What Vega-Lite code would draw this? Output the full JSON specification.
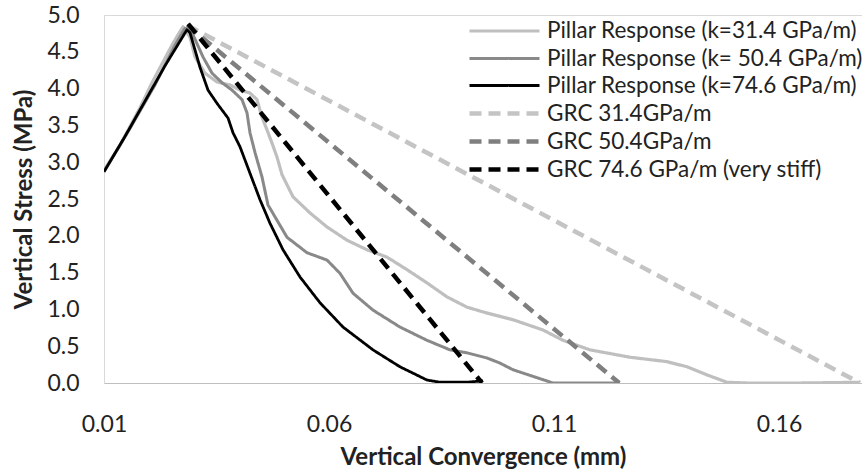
{
  "$schema": "https://vega.github.io/schema/vega-lite/v6.json",
  "width": 758,
  "height": 368,
  "autosize": {"type": "none"},
  "padding": {"left": 104, "top": 15, "right": 0, "bottom": 93},
  "background": "white",
  "config": {
    "font": "Lato",
    "view": {"stroke": "#d9d9d9", "strokeWidth": 1},
    "axis": {
      "grid": false,
      "ticks": false,
      "tickSize": 0,
      "labelFlush": false,
      "labelFont": "Lato",
      "labelFontSize": 23,
      "labelColor": "#222222",
      "titleFont": "Lato",
      "titleFontSize": 24,
      "titleFontWeight": "bold",
      "titleColor": "#222222"
    },
    "legend": {
      "labelFont": "Lato",
      "labelFontSize": 22.5,
      "labelColor": "#222222",
      "labelLimit": 400
    }
  },
  "data": {
    "values": [
      {"series": "Pillar Response (k=31.4 GPa/m)", "conv": 0.0100, "stress": 2.89},
      {"series": "Pillar Response (k=31.4 GPa/m)", "conv": 0.01356, "stress": 3.23},
      {"series": "Pillar Response (k=31.4 GPa/m)", "conv": 0.0180, "stress": 3.74},
      {"series": "Pillar Response (k=31.4 GPa/m)", "conv": 0.02067, "stress": 4.08},
      {"series": "Pillar Response (k=31.4 GPa/m)", "conv": 0.02311, "stress": 4.36},
      {"series": "Pillar Response (k=31.4 GPa/m)", "conv": 0.02511, "stress": 4.59},
      {"series": "Pillar Response (k=31.4 GPa/m)", "conv": 0.02644, "stress": 4.73},
      {"series": "Pillar Response (k=31.4 GPa/m)", "conv": 0.02756, "stress": 4.84},
      {"series": "Pillar Response (k=31.4 GPa/m)", "conv": 0.02911, "stress": 4.70},
      {"series": "Pillar Response (k=31.4 GPa/m)", "conv": 0.03022, "stress": 4.43},
      {"series": "Pillar Response (k=31.4 GPa/m)", "conv": 0.03244, "stress": 4.21},
      {"series": "Pillar Response (k=31.4 GPa/m)", "conv": 0.03511, "stress": 4.09},
      {"series": "Pillar Response (k=31.4 GPa/m)", "conv": 0.03800, "stress": 4.05},
      {"series": "Pillar Response (k=31.4 GPa/m)", "conv": 0.04022, "stress": 3.98},
      {"series": "Pillar Response (k=31.4 GPa/m)", "conv": 0.04244, "stress": 3.94},
      {"series": "Pillar Response (k=31.4 GPa/m)", "conv": 0.04400, "stress": 3.85},
      {"series": "Pillar Response (k=31.4 GPa/m)", "conv": 0.04511, "stress": 3.61},
      {"series": "Pillar Response (k=31.4 GPa/m)", "conv": 0.04622, "stress": 3.44},
      {"series": "Pillar Response (k=31.4 GPa/m)", "conv": 0.04733, "stress": 3.26},
      {"series": "Pillar Response (k=31.4 GPa/m)", "conv": 0.04844, "stress": 3.07},
      {"series": "Pillar Response (k=31.4 GPa/m)", "conv": 0.04956, "stress": 2.83},
      {"series": "Pillar Response (k=31.4 GPa/m)", "conv": 0.05200, "stress": 2.53},
      {"series": "Pillar Response (k=31.4 GPa/m)", "conv": 0.05578, "stress": 2.31},
      {"series": "Pillar Response (k=31.4 GPa/m)", "conv": 0.05956, "stress": 2.12},
      {"series": "Pillar Response (k=31.4 GPa/m)", "conv": 0.06400, "stress": 1.94},
      {"series": "Pillar Response (k=31.4 GPa/m)", "conv": 0.06844, "stress": 1.81},
      {"series": "Pillar Response (k=31.4 GPa/m)", "conv": 0.07289, "stress": 1.71},
      {"series": "Pillar Response (k=31.4 GPa/m)", "conv": 0.07733, "stress": 1.54},
      {"series": "Pillar Response (k=31.4 GPa/m)", "conv": 0.08178, "stress": 1.36},
      {"series": "Pillar Response (k=31.4 GPa/m)", "conv": 0.08622, "stress": 1.17},
      {"series": "Pillar Response (k=31.4 GPa/m)", "conv": 0.09067, "stress": 1.03},
      {"series": "Pillar Response (k=31.4 GPa/m)", "conv": 0.09511, "stress": 0.95},
      {"series": "Pillar Response (k=31.4 GPa/m)", "conv": 0.10089, "stress": 0.86},
      {"series": "Pillar Response (k=31.4 GPa/m)", "conv": 0.10756, "stress": 0.72},
      {"series": "Pillar Response (k=31.4 GPa/m)", "conv": 0.11200, "stress": 0.58},
      {"series": "Pillar Response (k=31.4 GPa/m)", "conv": 0.11800, "stress": 0.45},
      {"series": "Pillar Response (k=31.4 GPa/m)", "conv": 0.12689, "stress": 0.35},
      {"series": "Pillar Response (k=31.4 GPa/m)", "conv": 0.13511, "stress": 0.29},
      {"series": "Pillar Response (k=31.4 GPa/m)", "conv": 0.13956, "stress": 0.22},
      {"series": "Pillar Response (k=31.4 GPa/m)", "conv": 0.14400, "stress": 0.11},
      {"series": "Pillar Response (k=31.4 GPa/m)", "conv": 0.14844, "stress": 0.01},
      {"series": "Pillar Response (k=31.4 GPa/m)", "conv": 0.15289, "stress": 0.00},
      {"series": "Pillar Response (k=31.4 GPa/m)", "conv": 0.16467, "stress": 0.00},
      {"series": "Pillar Response (k=31.4 GPa/m)", "conv": 0.17800, "stress": 0.01},

      {"series": "Pillar Response (k= 50.4 GPa/m)", "conv": 0.0100, "stress": 2.87},
      {"series": "Pillar Response (k= 50.4 GPa/m)", "conv": 0.01578, "stress": 3.46},
      {"series": "Pillar Response (k= 50.4 GPa/m)", "conv": 0.02133, "stress": 4.05},
      {"series": "Pillar Response (k= 50.4 GPa/m)", "conv": 0.02578, "stress": 4.59},
      {"series": "Pillar Response (k= 50.4 GPa/m)", "conv": 0.02800, "stress": 4.82},
      {"series": "Pillar Response (k= 50.4 GPa/m)", "conv": 0.02956, "stress": 4.76},
      {"series": "Pillar Response (k= 50.4 GPa/m)", "conv": 0.03200, "stress": 4.43},
      {"series": "Pillar Response (k= 50.4 GPa/m)", "conv": 0.03400, "stress": 4.21},
      {"series": "Pillar Response (k= 50.4 GPa/m)", "conv": 0.03622, "stress": 4.08},
      {"series": "Pillar Response (k= 50.4 GPa/m)", "conv": 0.03844, "stress": 3.98},
      {"series": "Pillar Response (k= 50.4 GPa/m)", "conv": 0.04067, "stress": 3.85},
      {"series": "Pillar Response (k= 50.4 GPa/m)", "conv": 0.04178, "stress": 3.67},
      {"series": "Pillar Response (k= 50.4 GPa/m)", "conv": 0.04244, "stress": 3.40},
      {"series": "Pillar Response (k= 50.4 GPa/m)", "conv": 0.04356, "stress": 3.13},
      {"series": "Pillar Response (k= 50.4 GPa/m)", "conv": 0.04511, "stress": 2.80},
      {"series": "Pillar Response (k= 50.4 GPa/m)", "conv": 0.04644, "stress": 2.42},
      {"series": "Pillar Response (k= 50.4 GPa/m)", "conv": 0.05067, "stress": 1.98},
      {"series": "Pillar Response (k= 50.4 GPa/m)", "conv": 0.05511, "stress": 1.77},
      {"series": "Pillar Response (k= 50.4 GPa/m)", "conv": 0.05956, "stress": 1.67},
      {"series": "Pillar Response (k= 50.4 GPa/m)", "conv": 0.06244, "stress": 1.49},
      {"series": "Pillar Response (k= 50.4 GPa/m)", "conv": 0.06533, "stress": 1.22},
      {"series": "Pillar Response (k= 50.4 GPa/m)", "conv": 0.06978, "stress": 0.99},
      {"series": "Pillar Response (k= 50.4 GPa/m)", "conv": 0.07578, "stress": 0.76},
      {"series": "Pillar Response (k= 50.4 GPa/m)", "conv": 0.08178, "stress": 0.58},
      {"series": "Pillar Response (k= 50.4 GPa/m)", "conv": 0.08689, "stress": 0.45},
      {"series": "Pillar Response (k= 50.4 GPa/m)", "conv": 0.09067, "stress": 0.41},
      {"series": "Pillar Response (k= 50.4 GPa/m)", "conv": 0.09511, "stress": 0.34},
      {"series": "Pillar Response (k= 50.4 GPa/m)", "conv": 0.09800, "stress": 0.27},
      {"series": "Pillar Response (k= 50.4 GPa/m)", "conv": 0.10089, "stress": 0.18},
      {"series": "Pillar Response (k= 50.4 GPa/m)", "conv": 0.10978, "stress": 0.00},
      {"series": "Pillar Response (k= 50.4 GPa/m)", "conv": 0.12467, "stress": 0.00},

      {"series": "Pillar Response (k=74.6 GPa/m)", "conv": 0.0100, "stress": 2.87},
      {"series": "Pillar Response (k=74.6 GPa/m)", "conv": 0.01467, "stress": 3.35},
      {"series": "Pillar Response (k=74.6 GPa/m)", "conv": 0.01911, "stress": 3.83},
      {"series": "Pillar Response (k=74.6 GPa/m)", "conv": 0.02356, "stress": 4.31},
      {"series": "Pillar Response (k=74.6 GPa/m)", "conv": 0.02844, "stress": 4.80},
      {"series": "Pillar Response (k=74.6 GPa/m)", "conv": 0.02911, "stress": 4.76},
      {"series": "Pillar Response (k=74.6 GPa/m)", "conv": 0.03133, "stress": 4.29},
      {"series": "Pillar Response (k=74.6 GPa/m)", "conv": 0.03311, "stress": 3.98},
      {"series": "Pillar Response (k=74.6 GPa/m)", "conv": 0.03511, "stress": 3.80},
      {"series": "Pillar Response (k=74.6 GPa/m)", "conv": 0.03756, "stress": 3.60},
      {"series": "Pillar Response (k=74.6 GPa/m)", "conv": 0.03867, "stress": 3.40},
      {"series": "Pillar Response (k=74.6 GPa/m)", "conv": 0.04022, "stress": 3.21},
      {"series": "Pillar Response (k=74.6 GPa/m)", "conv": 0.04244, "stress": 2.85},
      {"series": "Pillar Response (k=74.6 GPa/m)", "conv": 0.04467, "stress": 2.49},
      {"series": "Pillar Response (k=74.6 GPa/m)", "conv": 0.04689, "stress": 2.17},
      {"series": "Pillar Response (k=74.6 GPa/m)", "conv": 0.04978, "stress": 1.81},
      {"series": "Pillar Response (k=74.6 GPa/m)", "conv": 0.05356, "stress": 1.44},
      {"series": "Pillar Response (k=74.6 GPa/m)", "conv": 0.05800, "stress": 1.09},
      {"series": "Pillar Response (k=74.6 GPa/m)", "conv": 0.06311, "stress": 0.76},
      {"series": "Pillar Response (k=74.6 GPa/m)", "conv": 0.06978, "stress": 0.45},
      {"series": "Pillar Response (k=74.6 GPa/m)", "conv": 0.07578, "stress": 0.22},
      {"series": "Pillar Response (k=74.6 GPa/m)", "conv": 0.08178, "stress": 0.04},
      {"series": "Pillar Response (k=74.6 GPa/m)", "conv": 0.08467, "stress": 0.01},
      {"series": "Pillar Response (k=74.6 GPa/m)", "conv": 0.09067, "stress": 0.01},
      {"series": "Pillar Response (k=74.6 GPa/m)", "conv": 0.09422, "stress": 0.03},

      {"series": "GRC 31.4GPa/m", "conv": 0.0285, "stress": 4.86},
      {"series": "GRC 31.4GPa/m", "conv": 0.1780, "stress": 0.0},
      {"series": "GRC 50.4GPa/m", "conv": 0.0285, "stress": 4.86},
      {"series": "GRC 50.4GPa/m", "conv": 0.1245, "stress": 0.0},
      {"series": "GRC 74.6 GPa/m (very stiff)", "conv": 0.0287, "stress": 4.88},
      {"series": "GRC 74.6 GPa/m (very stiff)", "conv": 0.0940, "stress": 0.0}
    ]
  },
  "mark": {"type": "line", "clip": true, "strokeCap": "butt", "strokeJoin": "round"},
  "encoding": {
    "x": {
      "field": "conv",
      "type": "quantitative",
      "title": "Vertical Convergence (mm)",
      "scale": {"domain": [0.01, 0.17844], "nice": false, "zero": false},
      "axis": {
        "values": [0.01, 0.06, 0.11, 0.16],
        "format": ".2f",
        "domainColor": "#bfbfbf",
        "labelPadding": 30,
        "titlePadding": 9
      }
    },
    "y": {
      "field": "stress",
      "type": "quantitative",
      "title": "Vertical Stress (MPa)",
      "scale": {"domain": [0, 5], "nice": false},
      "axis": {
        "values": [0, 0.5, 1, 1.5, 2, 2.5, 3, 3.5, 4, 4.5, 5],
        "format": ".1f",
        "domainColor": "#d9d9d9",
        "labelPadding": 25,
        "titlePadding": 10
      }
    },
    "color": {
      "field": "series",
      "type": "nominal",
      "scale": {
        "domain": [
          "Pillar Response (k=31.4 GPa/m)",
          "Pillar Response (k= 50.4 GPa/m)",
          "Pillar Response (k=74.6 GPa/m)",
          "GRC 31.4GPa/m",
          "GRC 50.4GPa/m",
          "GRC 74.6 GPa/m (very stiff)"
        ],
        "range": ["#bfbfbf", "#898989", "#000000", "#c4c4c4", "#7f7f7f", "#000000"]
      },
      "legend": {
        "title": null,
        "orient": "none",
        "legendX": 388,
        "legendY": 4,
        "padding": 0,
        "symbolType": "M-3.5,0H3.5",
        "symbolSize": 400,
        "labelOffset": 30,
        "rowPadding": 4
      }
    },
    "strokeDash": {
      "field": "series",
      "type": "nominal",
      "scale": {
        "domain": [
          "Pillar Response (k=31.4 GPa/m)",
          "Pillar Response (k= 50.4 GPa/m)",
          "Pillar Response (k=74.6 GPa/m)",
          "GRC 31.4GPa/m",
          "GRC 50.4GPa/m",
          "GRC 74.6 GPa/m (very stiff)"
        ],
        "range": [[1, 0], [1, 0], [1, 0], [12, 7], [12, 7], [12, 7]]
      }
    },
    "strokeWidth": {
      "field": "series",
      "type": "nominal",
      "scale": {
        "type": "ordinal",
        "domain": [
          "Pillar Response (k=31.4 GPa/m)",
          "Pillar Response (k= 50.4 GPa/m)",
          "Pillar Response (k=74.6 GPa/m)",
          "GRC 31.4GPa/m",
          "GRC 50.4GPa/m",
          "GRC 74.6 GPa/m (very stiff)"
        ],
        "range": [3.2, 3, 2.8, 4.5, 4.5, 4.5]
      }
    }
  }
}
